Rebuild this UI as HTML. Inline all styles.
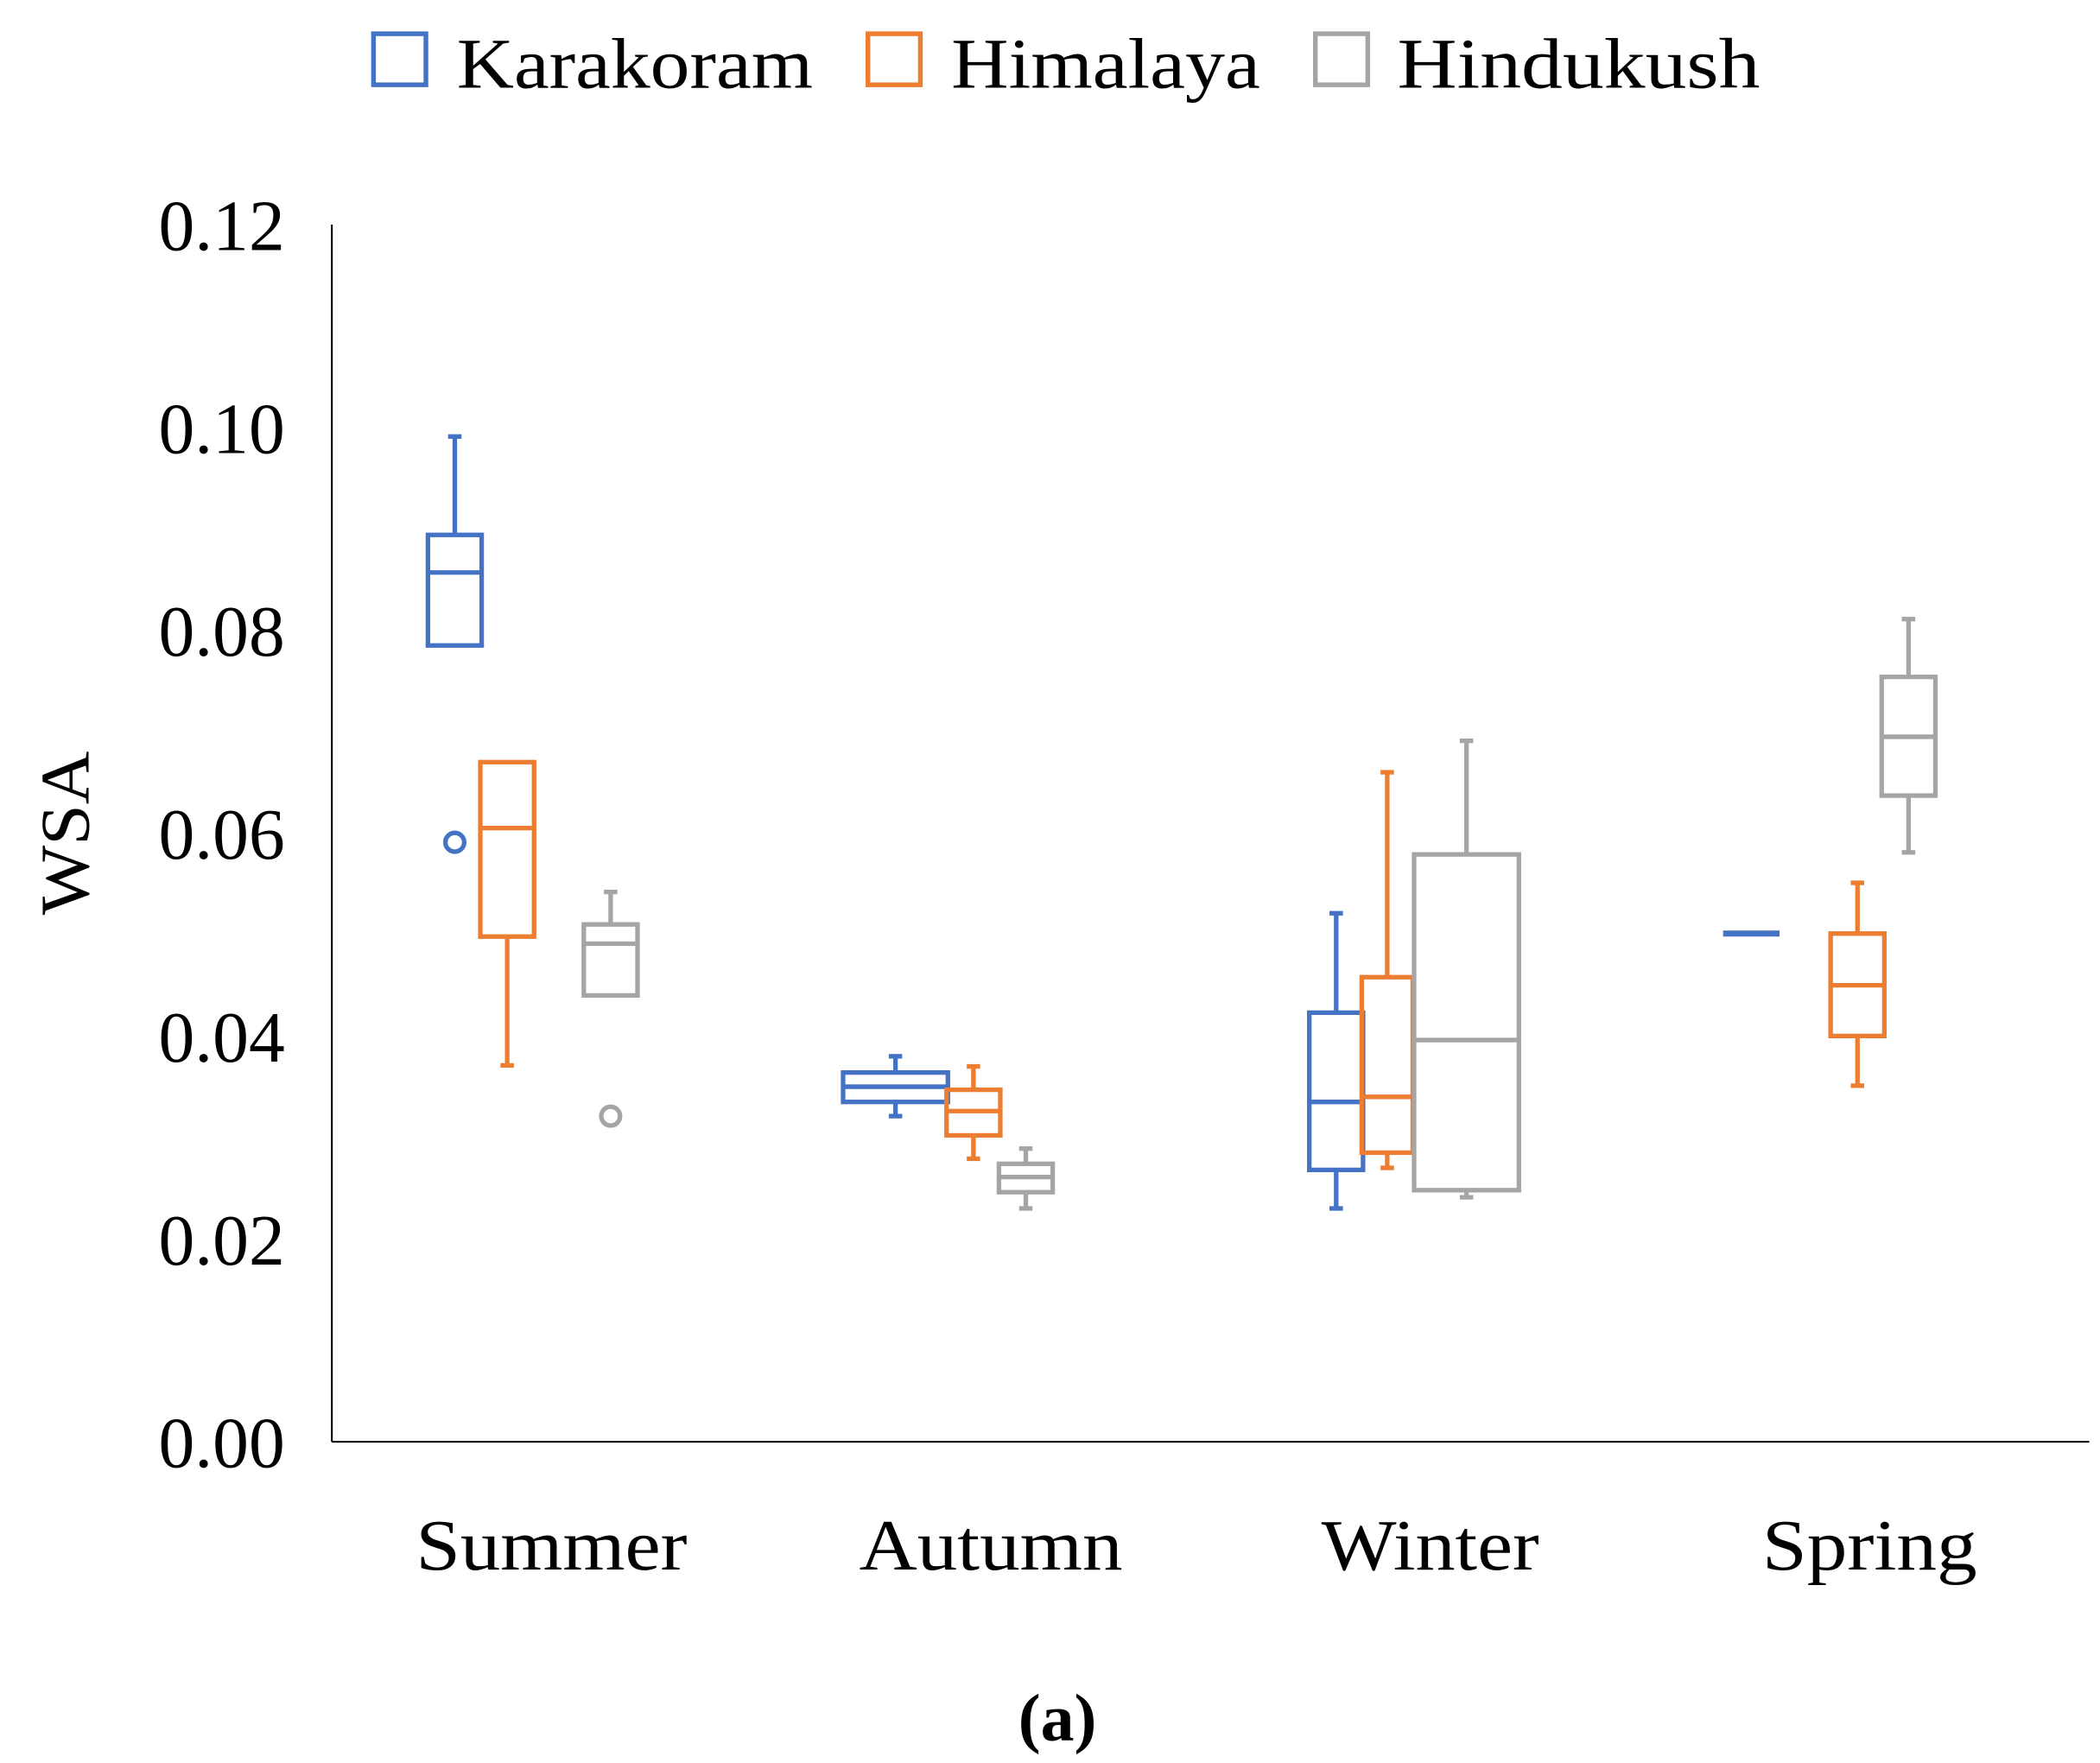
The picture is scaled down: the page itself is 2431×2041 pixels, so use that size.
<!DOCTYPE html>
<html><head><meta charset="utf-8"><style>
html,body{margin:0;padding:0;background:#fff;}
svg{display:block;}
text{font-family:"Liberation Serif",serif;fill:#000;}
</style></head><body>
<svg id="chart" width="2431" height="2041" viewBox="0 0 1563 1312" xmlns="http://www.w3.org/2000/svg">
<g>
 <rect x="278" y="25" width="39" height="38" fill="none" stroke="#4472C4" stroke-width="3.5"/>
 <text x="340" y="65" font-size="53" textLength="265" lengthAdjust="spacingAndGlyphs">Karakoram</text>
 <rect x="646" y="25" width="39" height="38" fill="none" stroke="#ED7D31" stroke-width="3.5"/>
 <text x="708" y="65" font-size="53" textLength="230" lengthAdjust="spacingAndGlyphs">Himalaya</text>
 <rect x="979" y="25" width="39" height="38" fill="none" stroke="#A5A5A5" stroke-width="3.5"/>
 <text x="1040" y="65" font-size="53" textLength="270" lengthAdjust="spacingAndGlyphs">Hindukush</text>
</g>
<text transform="translate(66,620) rotate(-90)" text-anchor="middle" font-size="52" textLength="122" lengthAdjust="spacingAndGlyphs">WSA</text>
<text x="787" y="1295" text-anchor="middle" font-size="50" font-weight="bold">(a)</text>
<g id="axes"></g>
<g id="marks"></g>
</svg>
<script>
const categories = ["Summer","Autumn","Winter","Spring"];
const series = ["Karakoram","Himalaya","Hindukush"];
const yTicks = [0,0.02,0.04,0.06,0.08,0.10,0.12];
const yTickLabels = ["0.00","0.02","0.04","0.06","0.08","0.10","0.12"];
// per series: [Summer, Autumn, Winter, Spring]
const kMin = [0.0785,0.0321,0.0230,0.0501];
const kQ1  = [0.0785,0.0335,0.0268,0.0501];
const kMed = [0.0857,0.0350,0.0335,0.0501];
const kQ3  = [0.0894,0.0364,0.0423,0.0501];
const kMax = [0.0991,0.0380,0.0521,0.0501];
const kOut = [[0.0591],[],[],[]];
const hMin = [0.0371,0.0279,0.0270,0.0351];
const hQ1  = [0.0498,0.0302,0.0285,0.0400];
const hMed = [0.0605,0.0326,0.0340,0.0450];
const hQ3  = [0.0670,0.0347,0.0458,0.0501];
const hMax = [0.0670,0.0370,0.0660,0.0551];
const hOut = [[],[],[],[]];
const gMin = [0.0440,0.0230,0.0241,0.0581];
const gQ1  = [0.0440,0.0246,0.0248,0.0637];
const gMed = [0.0491,0.0261,0.0396,0.0695];
const gQ3  = [0.0510,0.0274,0.0579,0.0754];
const gMax = [0.0542,0.0289,0.0691,0.0811];
const gOut = [[0.0321],[],[],[]];

const colors = ["#4472C4","#ED7D31","#A5A5A5"];
const X0=247, X1=1555, Y0=1073, Ytop=167, VMAX=0.12;
function y(v){return Y0-(v/VMAX)*(Y0-Ytop);}
const catW=(X1-X0)/categories.length;
function xCat(i){return X0+catW*(i+0.5);}
const layoutOff = [[-72,-33,44],[-71,-13,26],[-70,-32,27],[-88,-9,29]];
const layoutHalf = [[20,20,20],[39,20,20],[20,19,39],[21,20,20]];
const catLabelW = [202,196,162,160];
const NS="http://www.w3.org/2000/svg";
function mk(tag,attrs,parent){const e=document.createElementNS(NS,tag);for(const k in attrs)e.setAttribute(k,attrs[k]);parent.appendChild(e);return e;}
const axes=document.getElementById('axes'), marks=document.getElementById('marks');
let a=mk('line',{x1:X0,y1:Ytop,x2:X0,y2:Y0,stroke:'#000','stroke-width':1.3},axes);


a=mk('line',{x1:X0,y1:Y0,x2:X1,y2:Y0,stroke:'#000','stroke-width':1.3},axes);


yTicks.forEach((v,i)=>{const t=mk('text',{x:212,y:y(v)+19,'text-anchor':'end','font-size':54,textLength:94,lengthAdjust:'spacingAndGlyphs'},axes);t.textContent=yTickLabels[i];

});
categories.forEach((c,i)=>{const t=mk('text',{x:xCat(i),y:1168,'text-anchor':'middle','font-size':54,textLength:catLabelW[i],lengthAdjust:'spacingAndGlyphs'},axes);t.textContent=c;

});
const data=[[kMin,kQ1,kMed,kQ3,kMax,kOut],[hMin,hQ1,hMed,hQ3,hMax,hOut],[gMin,gQ1,gMed,gQ3,gMax,gOut]];
data.forEach((d,s)=>{categories.forEach((c,i)=>{
 const cx=xCat(i)+layoutOff[i][s], hw=layoutHalf[i][s], col=colors[s];
 const g=mk('g',{stroke:col,'stroke-width':3.4,fill:'none'},marks);
 
 
 const mn=d[0][i],q1=d[1][i],md=d[2][i],q3=d[3][i],mx=d[4][i];
 if(q3-q1<1e-6){mk('line',{x1:cx-hw,x2:cx+hw,y1:y(md),y2:y(md),'stroke-width':4.5},g);}
 else{
  mk('rect',{x:cx-hw,y:y(q3),width:2*hw,height:y(q1)-y(q3)},g);
  mk('line',{x1:cx-hw,x2:cx+hw,y1:y(md),y2:y(md)},g);
  if(mx>q3+1e-6){mk('line',{x1:cx,x2:cx,y1:y(mx),y2:y(q3)},g);mk('line',{x1:cx-5,x2:cx+5,y1:y(mx),y2:y(mx)},g);}
  if(mn<q1-1e-6){mk('line',{x1:cx,x2:cx,y1:y(q1),y2:y(mn)},g);mk('line',{x1:cx-5,x2:cx+5,y1:y(mn),y2:y(mn)},g);}
 }
 d[5][i].forEach(o=>{const p=mk('circle',{cx:cx,cy:y(o),r:7},g);
  
  });
});});
</script>
</body></html>
